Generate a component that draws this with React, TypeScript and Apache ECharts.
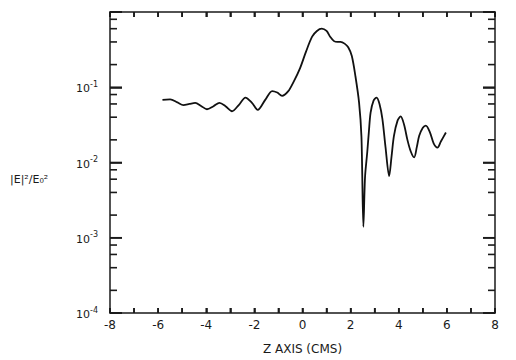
import React, { useEffect, useRef } from "react";
import * as echarts from "echarts";

const zValues = [
  -5.82, -5.5, -5.2, -4.95, -4.7, -4.46, -4.2, -3.97, -3.7, -3.45, -3.2, -2.93,
  -2.65, -2.37, -2.1, -1.86, -1.55, -1.26, -1.05, -0.85, -0.6, -0.36, -0.1,
  0.15, 0.4, 0.6, 0.8, 1.0, 1.15, 1.31, 1.45, 1.58, 1.75, 1.9, 2.05, 2.2, 2.35,
  2.45, 2.53, 2.6, 2.69, 2.76, 2.83, 2.95, 3.08, 3.2, 3.32, 3.45, 3.6, 3.7, 3.8,
  3.95, 4.08, 4.22, 4.36, 4.5, 4.64, 4.75, 4.85, 5.0, 5.125, 5.3, 5.45, 5.61,
  5.75, 5.96,
];
const intensity = [
  0.068, 0.069, 0.063, 0.058, 0.06, 0.062, 0.056, 0.051, 0.056, 0.062, 0.056,
  0.048, 0.058, 0.073, 0.062, 0.05, 0.068, 0.089, 0.085, 0.077, 0.088, 0.12,
  0.18, 0.3, 0.47, 0.56, 0.6, 0.56, 0.47, 0.41, 0.4, 0.4, 0.38, 0.34, 0.26,
  0.14, 0.063, 0.022, 0.0014, 0.0065, 0.0136, 0.026, 0.046, 0.066, 0.073,
  0.06, 0.038, 0.016, 0.0066, 0.012, 0.0226, 0.036, 0.041, 0.032, 0.02, 0.014,
  0.0117, 0.016, 0.0226, 0.029, 0.031, 0.025, 0.018, 0.0158, 0.019, 0.025,
];
const decades = [1e-4, 1e-3, 1e-2, 1e-1, 1];
const minorMultipliers = [2, 4, 6, 8];
const xTickValues = [-8, -7, -6, -5, -4, -3, -2, -1, 0, 1, 2, 3, 4, 5, 6, 7, 8];
const xMin = -8;
const xMax = 8;

const FONT = "DejaVu Sans";
const INK = "#1a1a1a";

export default function App() {
  const ref = useRef<HTMLDivElement>(null);
  useEffect(() => {
    if (!ref.current) return;
    const chart = echarts.init(ref.current, undefined, { renderer: "svg" });
    const minorValues: number[] = [];
    decades.slice(0, 4).forEach((d) => minorMultipliers.forEach((m) => minorValues.push(d * m)));
    const lineData = zValues.map((z, i) => [z, intensity[i]]);
    const mkAxisLine = () => ({ show: true, onZero: false, lineStyle: { color: INK, width: 1.5 } });
    const mkXTick = () => ({ show: true, inside: true, length: 5, lineStyle: { color: INK, width: 1.6 } });
    const mkYTick = () => ({ show: true, inside: true, length: 12, lineStyle: { color: INK, width: 1.6 } });
    const titleGraphic = {
      id: "ytitle",
      type: "text",
      left: 10,
      top: 174,
      style: { text: "|E|²/E₀²", font: `11px "${FONT}"`, fill: INK },
    };
    chart.setOption({
      animation: false,
      grid: { left: 110, right: 21, top: 12, bottom: 46 },
      graphic: [titleGraphic],
      xAxis: [
        {
          type: "value",
          position: "bottom",
          min: xMin,
          max: xMax,
          interval: 1,
          name: "Z AXIS (CMS)",
          nameLocation: "middle",
          nameGap: 30,
          nameTextStyle: { fontFamily: FONT, fontSize: 12, color: INK },
          axisLine: mkAxisLine(),
          axisTick: mkXTick(),
          splitLine: { show: false },
          axisLabel: {
            fontFamily: FONT,
            fontSize: 12,
            color: INK,
            margin: 6,
            formatter: (v: number) => (Math.round(v) % 2 === 0 ? String(v) : ""),
          },
        },
        {
          type: "value",
          position: "top",
          min: xMin,
          max: xMax,
          interval: 1,
          axisLine: mkAxisLine(),
          axisTick: mkXTick(),
          splitLine: { show: false },
          axisLabel: { show: false },
        },
      ],
      yAxis: [
        {
          type: "log",
          logBase: 10,
          min: 1e-4,
          max: 1,
          position: "left",
          axisLine: mkAxisLine(),
          axisTick: mkYTick(),
          splitLine: { show: false },
          axisLabel: {
            margin: 12,
            formatter: (v: number) => {
              const e = Math.round(Math.log10(v));
              if (e === 0) return "";
              return `{b|10}{s|${e}}`;
            },
            rich: {
              b: { fontFamily: FONT, fontSize: 11, color: INK, verticalAlign: "bottom", lineHeight: 14 },
              s: { fontFamily: FONT, fontSize: 8, color: INK, verticalAlign: "top", lineHeight: 14, padding: [0, 0, 6, 0] },
            },
          },
        },
        {
          type: "log",
          logBase: 10,
          position: "right",
          min: 1e-4,
          max: 1,
          axisLine: mkAxisLine(),
          axisTick: mkYTick(),
          splitLine: { show: false },
          axisLabel: { show: false },
        },
      ],
      series: [
        {
          type: "line",
          data: lineData,
          smooth: 0.3,
          showSymbol: false,
          lineStyle: { color: "#111", width: 1.8 },
          xAxisIndex: 0,
          yAxisIndex: 0,
        },
      ],
    });

    // Tick marks placed through the chart's own scales.
    const toPx = (x: number, y: number) =>
      chart.convertToPixel({ xAxisIndex: 0, yAxisIndex: 0 }, [x, y]) as number[];
    const style = { stroke: INK, lineWidth: 1.6 };
    const ticks: any[] = [];
    const hLine = (x: number, y: number, len: number) =>
      ticks.push({ type: "line", z: 1000, silent: true, shape: { x1: x, y1: y, x2: x + len, y2: y }, style });
    const vLine = (x: number, y: number, len: number) =>
      ticks.push({ type: "line", z: 1000, silent: true, shape: { x1: x, y1: y, x2: x, y2: y + len }, style });
    minorValues.forEach((v) => {
      const l = toPx(xMin, v);
      const r = toPx(xMax, v);
      hLine(l[0], l[1], 7);
      hLine(r[0], r[1], -7);
    });
    decades.forEach((v) => {
      const l = toPx(xMin, v);
      const r = toPx(xMax, v);
      hLine(l[0], l[1], 12);
      hLine(r[0], r[1], -12);
    });
    xTickValues.forEach((x) => {
      const b = toPx(x, 1e-4);
      const t = toPx(x, 1);
      vLine(b[0], b[1], -5);
      vLine(t[0], t[1], 5);
    });
    chart.setOption({ graphic: [titleGraphic, ...ticks] });
    return () => chart.dispose();
  }, []);
  return (
    <div
      ref={ref}
      style={{ position: "absolute", left: 0, top: 0, width: 516, height: 360, background: "#fff" }}
    />
  );
}
